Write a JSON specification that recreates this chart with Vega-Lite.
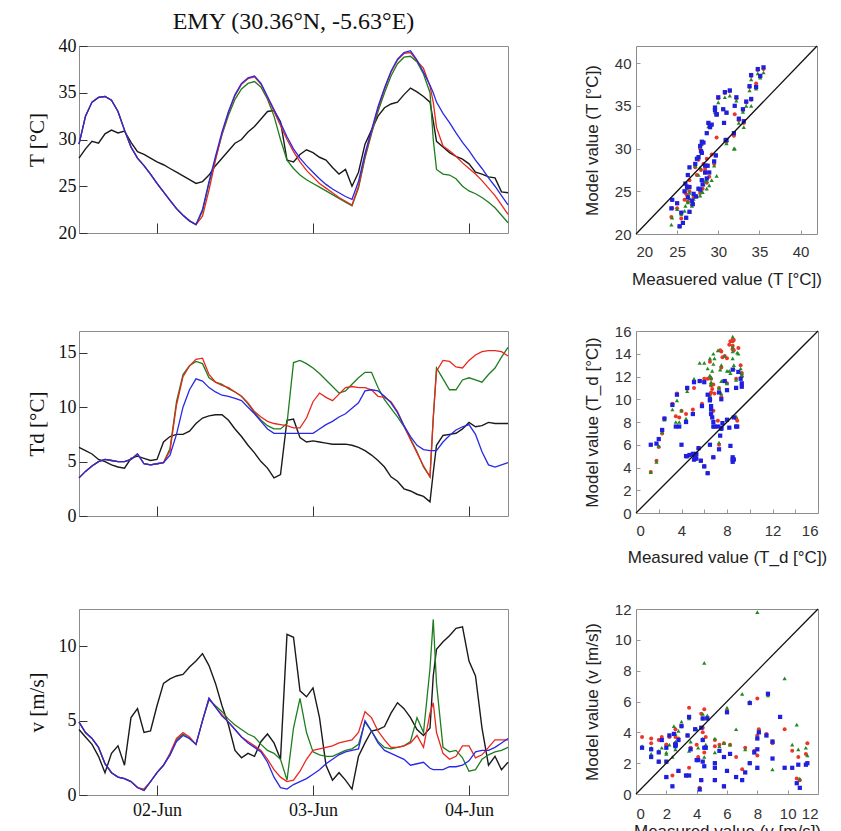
{
"$schema":"https://vega.github.io/schema/vega-lite/v6.json",
"padding":{"left":25,"top":9,"right":5,"bottom":5},
"background":"white",
"config":{"view":{"stroke":"#8c8c8c","strokeWidth":1},
 "axis":{"domain":false,"grid":false,"tickColor":"#333","tickWidth":1,"labelColor":"#111","titleColor":"#111","titleFontWeight":"normal","labelFont":"Liberation Serif","titleFont":"Liberation Serif","labelFontSize":18,"titleFontSize":21}},
"datasets":{"ts":[
{"t":"2012-06-01T12:00","T0":28.0,"T1":29.5,"T2":29.5,"T3":29.5,"D0":6.3,"D1":3.5,"D2":3.5,"D3":3.5,"V0":4.4,"V1":4.9,"V2":4.9,"V3":4.9},
{"t":"2012-06-01T13:00","T0":29.0,"T1":32.5,"T2":32.5,"T3":32.5,"D0":6.0,"D1":4.1,"D2":4.1,"D3":4.1,"V0":3.9,"V1":4.2,"V2":4.2,"V3":4.2},
{"t":"2012-06-01T14:00","T0":29.8,"T1":34.0,"T2":34.0,"T3":34.0,"D0":5.7,"D1":4.6,"D2":4.6,"D3":4.6,"V0":3.4,"V1":3.8,"V2":3.8,"V3":3.8},
{"t":"2012-06-01T15:00","T0":29.6,"T1":34.5,"T2":34.5,"T3":34.5,"D0":5.2,"D1":5.0,"D2":5.0,"D3":5.0,"V0":2.6,"V1":3.2,"V2":3.2,"V3":3.2},
{"t":"2012-06-01T16:00","T0":30.6,"T1":34.6,"T2":34.6,"T3":34.6,"D0":5.0,"D1":5.2,"D2":5.2,"D3":5.2,"V0":1.5,"V1":2.1,"V2":2.1,"V3":2.1},
{"t":"2012-06-01T17:00","T0":31.0,"T1":34.2,"T2":34.2,"T3":34.2,"D0":4.7,"D1":5.1,"D2":5.1,"D3":5.1,"V0":2.8,"V1":1.5,"V2":1.5,"V3":1.5},
{"t":"2012-06-01T18:00","T0":30.7,"T1":33.0,"T2":33.0,"T3":33.0,"D0":4.5,"D1":5.0,"D2":5.0,"D3":5.0,"V0":3.3,"V1":1.2,"V2":1.2,"V3":1.2},
{"t":"2012-06-01T19:00","T0":30.9,"T1":31.0,"T2":31.0,"T3":31.0,"D0":4.4,"D1":5.0,"D2":5.0,"D3":5.0,"V0":2.0,"V1":1.1,"V2":1.1,"V3":1.1},
{"t":"2012-06-01T20:00","T0":29.7,"T1":29.2,"T2":29.2,"T3":29.2,"D0":5.3,"D1":5.2,"D2":5.2,"D3":5.2,"V0":5.2,"V1":0.9,"V2":0.9,"V3":0.9},
{"t":"2012-06-01T21:00","T0":28.7,"T1":28.0,"T2":28.0,"T3":28.0,"D0":5.5,"D1":5.7,"D2":5.7,"D3":5.7,"V0":5.8,"V1":0.5,"V2":0.5,"V3":0.5},
{"t":"2012-06-01T22:00","T0":28.4,"T1":27.2,"T2":27.2,"T3":27.2,"D0":5.3,"D1":4.8,"D2":4.8,"D3":4.8,"V0":4.2,"V1":0.4,"V2":0.3,"V3":0.3},
{"t":"2012-06-01T23:00","T0":28.0,"T1":26.3,"T2":26.3,"T3":26.3,"D0":5.1,"D1":4.7,"D2":4.7,"D3":4.7,"V0":4.3,"V1":0.9,"V2":0.9,"V3":0.9},
{"t":"2012-06-02T00:00","T0":27.6,"T1":25.3,"T2":25.3,"T3":25.3,"D0":5.2,"D1":4.8,"D2":4.8,"D3":4.8,"V0":6.0,"V1":1.5,"V2":1.5,"V3":1.5},
{"t":"2012-06-02T01:00","T0":27.3,"T1":24.4,"T2":24.4,"T3":24.4,"D0":6.8,"D1":4.9,"D2":4.9,"D3":4.9,"V0":7.5,"V1":2.0,"V2":2.0,"V3":2.0},
{"t":"2012-06-02T02:00","T0":26.9,"T1":23.5,"T2":23.5,"T3":23.5,"D0":7.3,"D1":6.0,"D2":6.2,"D3":5.6,"V0":7.8,"V1":2.8,"V2":2.7,"V3":2.7},
{"t":"2012-06-02T03:00","T0":26.5,"T1":22.6,"T2":22.6,"T3":22.6,"D0":7.5,"D1":10.2,"D2":10.5,"D3":7.5,"V0":8.0,"V1":3.8,"V2":3.7,"V3":3.6},
{"t":"2012-06-02T04:00","T0":26.1,"T1":21.9,"T2":21.9,"T3":21.9,"D0":7.5,"D1":12.8,"D2":13.0,"D3":10.0,"V0":8.1,"V1":4.2,"V2":4.1,"V3":4.0},
{"t":"2012-06-02T05:00","T0":25.7,"T1":21.3,"T2":21.3,"T3":21.3,"D0":7.8,"D1":13.8,"D2":13.8,"D3":11.6,"V0":8.6,"V1":3.9,"V2":3.8,"V3":3.8},
{"t":"2012-06-02T06:00","T0":25.3,"T1":20.9,"T2":20.9,"T3":20.9,"D0":8.5,"D1":14.4,"D2":14.2,"D3":12.6,"V0":9.0,"V1":3.4,"V2":3.4,"V3":3.4},
{"t":"2012-06-02T07:00","T0":25.5,"T1":21.8,"T2":22.3,"T3":22.5,"D0":9.0,"D1":14.5,"D2":14.0,"D3":12.4,"V0":9.5,"V1":5.0,"V2":5.0,"V3":5.0},
{"t":"2012-06-02T08:00","T0":26.2,"T1":24.6,"T2":25.3,"T3":25.5,"D0":9.2,"D1":13.0,"D2":12.7,"D3":11.8,"V0":8.7,"V1":6.5,"V2":6.4,"V3":6.5},
{"t":"2012-06-02T09:00","T0":27.2,"T1":27.8,"T2":28.0,"T3":28.2,"D0":9.3,"D1":12.3,"D2":12.3,"D3":11.4,"V0":7.5,"V1":5.9,"V2":6.0,"V3":5.9},
{"t":"2012-06-02T10:00","T0":28.0,"T1":30.6,"T2":30.5,"T3":30.8,"D0":9.3,"D1":12.0,"D2":12.1,"D3":11.1,"V0":6.0,"V1":5.4,"V2":5.6,"V3":5.3},
{"t":"2012-06-02T11:00","T0":28.8,"T1":32.9,"T2":32.6,"T3":33.0,"D0":8.8,"D1":11.8,"D2":11.7,"D3":11.0,"V0":4.7,"V1":4.9,"V2":5.1,"V3":4.9},
{"t":"2012-06-02T12:00","T0":29.6,"T1":34.7,"T2":34.3,"T3":34.8,"D0":8.0,"D1":11.4,"D2":11.4,"D3":10.8,"V0":3.0,"V1":4.4,"V2":4.7,"V3":4.4},
{"t":"2012-06-02T13:00","T0":30.0,"T1":35.9,"T2":35.4,"T3":36.0,"D0":7.3,"D1":11.0,"D2":11.0,"D3":10.6,"V0":2.5,"V1":3.9,"V2":4.4,"V3":3.9},
{"t":"2012-06-02T14:00","T0":30.8,"T1":36.5,"T2":36.0,"T3":36.6,"D0":6.5,"D1":10.4,"D2":10.3,"D3":10.0,"V0":2.8,"V1":3.6,"V2":4.1,"V3":3.5},
{"t":"2012-06-02T15:00","T0":31.4,"T1":36.7,"T2":36.2,"T3":36.8,"D0":5.8,"D1":9.6,"D2":9.5,"D3":9.4,"V0":2.6,"V1":3.3,"V2":3.9,"V3":3.2},
{"t":"2012-06-02T16:00","T0":32.2,"T1":35.9,"T2":35.6,"T3":36.0,"D0":5.0,"D1":9.1,"D2":8.8,"D3":8.7,"V0":3.6,"V1":3.0,"V2":3.4,"V3":2.9},
{"t":"2012-06-02T17:00","T0":33.0,"T1":34.5,"T2":34.3,"T3":34.6,"D0":4.4,"D1":8.7,"D2":8.3,"D3":8.0,"V0":4.1,"V1":2.4,"V2":3.0,"V3":2.2},
{"t":"2012-06-02T18:00","T0":33.1,"T1":33.0,"T2":32.5,"T3":33.2,"D0":3.5,"D1":8.5,"D2":8.0,"D3":7.6,"V0":3.5,"V1":1.7,"V2":2.8,"V3":1.2},
{"t":"2012-06-02T19:00","T0":31.9,"T1":31.5,"T2":30.0,"T3":31.8,"D0":3.8,"D1":8.4,"D2":8.0,"D3":7.6,"V0":2.4,"V1":1.2,"V2":2.4,"V3":0.5},
{"t":"2012-06-02T20:00","T0":27.8,"T1":30.0,"T2":27.8,"T3":30.3,"D0":8.8,"D1":8.3,"D2":8.5,"D3":7.6,"V0":10.8,"V1":0.9,"V2":1.0,"V3":0.4},
{"t":"2012-06-02T21:00","T0":27.6,"T1":28.7,"T2":26.9,"T3":29.0,"D0":8.9,"D1":8.1,"D2":14.1,"D3":7.6,"V0":10.6,"V1":1.0,"V2":4.5,"V3":0.7},
{"t":"2012-06-02T22:00","T0":28.4,"T1":27.6,"T2":26.2,"T3":28.0,"D0":7.2,"D1":8.1,"D2":14.3,"D3":7.6,"V0":7.0,"V1":1.6,"V2":6.5,"V3":0.9},
{"t":"2012-06-02T23:00","T0":28.9,"T1":26.7,"T2":25.7,"T3":27.2,"D0":6.8,"D1":9.0,"D2":14.0,"D3":7.6,"V0":6.6,"V1":2.4,"V2":4.2,"V3":1.1},
{"t":"2012-06-03T00:00","T0":28.6,"T1":26.0,"T2":25.3,"T3":26.5,"D0":6.9,"D1":10.5,"D2":13.6,"D3":7.6,"V0":7.2,"V1":3.0,"V2":2.9,"V3":1.4},
{"t":"2012-06-03T01:00","T0":28.1,"T1":25.3,"T2":24.9,"T3":25.8,"D0":6.8,"D1":11.3,"D2":13.1,"D3":8.0,"V0":5.2,"V1":3.1,"V2":2.7,"V3":1.7},
{"t":"2012-06-03T02:00","T0":27.8,"T1":24.8,"T2":24.5,"T3":25.2,"D0":6.7,"D1":10.9,"D2":12.5,"D3":8.4,"V0":2.0,"V1":3.2,"V2":2.6,"V3":2.1},
{"t":"2012-06-03T03:00","T0":27.0,"T1":24.3,"T2":24.1,"T3":24.7,"D0":6.6,"D1":10.6,"D2":11.9,"D3":8.7,"V0":1.0,"V1":3.3,"V2":2.6,"V3":2.4},
{"t":"2012-06-03T04:00","T0":26.3,"T1":23.8,"T2":23.7,"T3":24.3,"D0":6.6,"D1":11.2,"D2":11.3,"D3":9.1,"V0":1.5,"V1":3.5,"V2":2.8,"V3":2.7},
{"t":"2012-06-03T05:00","T0":26.8,"T1":23.4,"T2":23.3,"T3":23.9,"D0":6.6,"D1":11.8,"D2":11.5,"D3":9.4,"V0":1.0,"V1":3.6,"V2":3.0,"V3":2.9},
{"t":"2012-06-03T06:00","T0":25.0,"T1":23.0,"T2":22.9,"T3":23.6,"D0":6.5,"D1":11.9,"D2":12.1,"D3":9.9,"V0":0.4,"V1":3.7,"V2":3.1,"V3":3.0},
{"t":"2012-06-03T07:00","T0":26.5,"T1":25.0,"T2":24.8,"T3":25.5,"D0":6.3,"D1":11.8,"D2":12.7,"D3":10.4,"V0":2.6,"V1":4.2,"V2":3.4,"V3":3.1},
{"t":"2012-06-03T08:00","T0":29.5,"T1":28.2,"T2":28.0,"T3":28.5,"D0":6.0,"D1":11.8,"D2":13.2,"D3":11.5,"V0":3.5,"V1":5.6,"V2":4.9,"V3":5.0},
{"t":"2012-06-03T09:00","T0":31.0,"T1":30.8,"T2":30.6,"T3":31.0,"D0":5.6,"D1":11.6,"D2":13.2,"D3":11.6,"V0":4.3,"V1":5.2,"V2":4.3,"V3":4.3},
{"t":"2012-06-03T10:00","T0":32.5,"T1":33.3,"T2":33.0,"T3":33.5,"D0":5.1,"D1":11.0,"D2":11.8,"D3":11.5,"V0":4.4,"V1":4.3,"V2":3.6,"V3":3.5},
{"t":"2012-06-03T11:00","T0":33.4,"T1":35.4,"T2":35.0,"T3":35.5,"D0":4.5,"D1":10.9,"D2":10.7,"D3":11.0,"V0":4.6,"V1":3.7,"V2":3.2,"V3":3.0},
{"t":"2012-06-03T12:00","T0":33.8,"T1":37.2,"T2":36.8,"T3":37.3,"D0":3.6,"D1":10.5,"D2":9.9,"D3":10.4,"V0":5.5,"V1":3.2,"V2":3.1,"V3":2.8},
{"t":"2012-06-03T13:00","T0":34.0,"T1":38.5,"T2":38.1,"T3":38.6,"D0":3.2,"D1":9.6,"D2":9.1,"D3":9.5,"V0":6.2,"V1":3.2,"V2":3.2,"V3":2.6},
{"t":"2012-06-03T14:00","T0":34.8,"T1":39.2,"T2":38.8,"T3":39.3,"D0":2.5,"D1":8.3,"D2":8.2,"D3":8.3,"V0":5.8,"V1":3.3,"V2":3.3,"V3":2.4},
{"t":"2012-06-03T15:00","T0":35.5,"T1":39.3,"T2":38.9,"T3":39.5,"D0":2.3,"D1":7.0,"D2":7.1,"D3":7.3,"V0":5.2,"V1":3.5,"V2":3.6,"V3":2.0},
{"t":"2012-06-03T16:00","T0":35.1,"T1":38.4,"T2":38.3,"T3":38.5,"D0":2.0,"D1":5.8,"D2":5.9,"D3":6.5,"V0":4.4,"V1":4.0,"V2":5.2,"V3":2.1},
{"t":"2012-06-03T17:00","T0":34.6,"T1":37.6,"T2":37.0,"T3":37.2,"D0":1.8,"D1":4.6,"D2":4.5,"D3":6.1,"V0":4.0,"V1":3.2,"V2":4.2,"V3":2.2},
{"t":"2012-06-03T18:00","T0":34.0,"T1":35.7,"T2":35.0,"T3":35.8,"D0":1.3,"D1":3.6,"D2":3.6,"D3":6.0,"V0":4.5,"V1":5.5,"V2":8.5,"V3":1.8},
{"t":"2012-06-03T18:30","T0":32.0,"T1":34.0,"T2":30.0,"T3":35.0,"D0":4.0,"D1":9.0,"D2":9.0,"D3":6.0,"V0":8.0,"V1":6.2,"V2":11.8,"V3":1.7},
{"t":"2012-06-03T19:00","T0":29.8,"T1":31.3,"T2":26.8,"T3":34.0,"D0":6.5,"D1":13.3,"D2":13.6,"D3":6.0,"V0":9.8,"V1":4.2,"V2":7.5,"V3":1.7},
{"t":"2012-06-03T20:00","T0":29.2,"T1":29.3,"T2":26.3,"T3":32.8,"D0":7.4,"D1":14.3,"D2":12.6,"D3":6.8,"V0":10.3,"V1":2.8,"V2":3.2,"V3":1.7},
{"t":"2012-06-03T21:00","T0":28.6,"T1":28.8,"T2":26.2,"T3":31.8,"D0":7.5,"D1":14.2,"D2":11.6,"D3":7.4,"V0":10.7,"V1":2.4,"V2":2.9,"V3":1.9},
{"t":"2012-06-03T22:00","T0":28.2,"T1":28.2,"T2":25.8,"T3":30.7,"D0":7.6,"D1":13.7,"D2":11.6,"D3":7.9,"V0":11.2,"V1":2.6,"V2":3.0,"V3":1.9},
{"t":"2012-06-03T23:00","T0":27.9,"T1":27.5,"T2":25.0,"T3":29.7,"D0":8.0,"D1":13.6,"D2":12.5,"D3":8.2,"V0":11.3,"V1":3.3,"V2":2.5,"V3":2.0},
{"t":"2012-06-04T00:00","T0":27.4,"T1":26.9,"T2":24.5,"T3":28.8,"D0":8.6,"D1":14.3,"D2":12.7,"D3":8.4,"V0":9.0,"V1":3.3,"V2":1.6,"V3":2.3},
{"t":"2012-06-04T01:00","T0":26.5,"T1":26.3,"T2":24.2,"T3":27.8,"D0":8.2,"D1":14.8,"D2":12.5,"D3":7.5,"V0":8.0,"V1":2.5,"V2":1.7,"V3":2.9},
{"t":"2012-06-04T02:00","T0":26.3,"T1":25.6,"T2":23.8,"T3":26.9,"D0":8.3,"D1":15.1,"D2":12.3,"D3":5.9,"V0":4.5,"V1":2.7,"V2":2.4,"V3":3.0},
{"t":"2012-06-04T03:00","T0":26.0,"T1":24.8,"T2":23.3,"T3":25.9,"D0":8.6,"D1":15.2,"D2":13.0,"D3":4.7,"V0":2.0,"V1":3.2,"V2":2.7,"V3":3.0},
{"t":"2012-06-04T04:00","T0":25.9,"T1":24.0,"T2":22.7,"T3":25.0,"D0":8.5,"D1":15.2,"D2":13.6,"D3":4.5,"V0":2.6,"V1":3.7,"V2":2.9,"V3":3.2},
{"t":"2012-06-04T05:00","T0":24.4,"T1":23.0,"T2":21.9,"T3":24.0,"D0":8.5,"D1":15.1,"D2":14.6,"D3":4.7,"V0":1.7,"V1":3.7,"V2":3.0,"V3":3.5},
{"t":"2012-06-04T06:00","T0":24.3,"T1":22.0,"T2":21.1,"T3":23.0,"D0":8.5,"D1":14.7,"D2":15.5,"D3":4.9,"V0":2.2,"V1":3.7,"V2":3.2,"V3":3.8}
]},
"spacing":35,
"vconcat":[
 {"bounds":"flush","spacing":128,"hconcat":[
  {"width":429,"height":187,"data":{"name":"ts"},
   "title":{"text":"EMY (30.36°N, -5.63°E)","font":"Liberation Serif","fontSize":24,"fontWeight":"normal","color":"#111","offset":3,"anchor":"middle"},
   "encoding":{"x":{"field":"t","type":"temporal","scale":{"domain":[{"year":2012,"month":6,"date":1,"hours":12},{"year":2012,"month":6,"date":4,"hours":6}],"nice":false},"axis":{"tickCount":{"interval":"day","step":1},"tickSize":-10,"labels":false,"title":null}}},
   "layer":[
    {"mark":{"type":"line","color":"#1a1a1a","strokeWidth":1.4},"encoding":{"y":{"field":"T0","type":"quantitative","scale":{"domain":[20,40],"nice":false,"zero":false},"axis":{"tickCount":4,"tickSize":-8,"labelPadding":11,"title":"T [°C]","titlePadding":11}}}},
    {"mark":{"type":"line","color":"#1e7d1e","strokeWidth":1.3},"encoding":{"y":{"field":"T2","type":"quantitative","scale":{"domain":[20,40],"nice":false,"zero":false},"axis":{"tickCount":4,"tickSize":-8,"labelPadding":11,"title":"T [°C]","titlePadding":11}}}},
    {"mark":{"type":"line","color":"#e8281e","strokeWidth":1.3},"encoding":{"y":{"field":"T1","type":"quantitative","scale":{"domain":[20,40],"nice":false,"zero":false},"axis":{"tickCount":4,"tickSize":-8,"labelPadding":11,"title":"T [°C]","titlePadding":11}}}},
    {"mark":{"type":"line","color":"#2828e6","strokeWidth":1.3},"encoding":{"y":{"field":"T3","type":"quantitative","scale":{"domain":[20,40],"nice":false,"zero":false},"axis":{"tickCount":4,"tickSize":-8,"labelPadding":11,"title":"T [°C]","titlePadding":11}}}}
   ]},
  {"width":181,"height":188,"data":{"name":"ts"},
   "encoding":{"x":{"field":"T0","type":"quantitative","scale":{"domain":[20,42],"nice":false,"zero":false},"axis":{"tickCount":5,"tickSize":-4,"tickColor":"#999","labelPadding":14,"labelFont":"Liberation Sans","labelFontSize":15,"labelColor":"#333","title":"Measuered value (T [°C])","titleFont":"Liberation Sans","titleFontSize":17,"titleColor":"#222","titlePadding":12}}},
   "layer":[
    {"mark":{"type":"point","shape":"circle","filled":true,"size":16,"color":"#ee3528","opacity":1},
     "encoding":{"y":{"field":"T1","type":"quantitative","scale":{"domain":[20,42],"nice":false,"zero":false},"axis":{"tickCount":5,"tickSize":-4,"tickColor":"#999","labelPadding":9,"labelFont":"Liberation Sans","labelFontSize":15,"labelColor":"#333","title":"Model value (T [°C])","titleFont":"Liberation Sans","titleFontSize":17,"titleColor":"#222","titlePadding":13}}}},
    {"mark":{"type":"point","shape":"triangle-up","filled":true,"size":18,"color":"#238a23","opacity":1},
     "encoding":{"y":{"field":"T2","type":"quantitative","scale":{"domain":[20,42],"nice":false,"zero":false},"axis":{"tickCount":5,"tickSize":-4,"tickColor":"#999","labelPadding":9,"labelFont":"Liberation Sans","labelFontSize":15,"labelColor":"#333","title":"Model value (T [°C])","titleFont":"Liberation Sans","titleFontSize":17,"titleColor":"#222","titlePadding":13}}}},
    {"mark":{"type":"point","shape":"square","filled":true,"size":18,"color":"#1f1fe0","opacity":1},
     "encoding":{"y":{"field":"T3","type":"quantitative","scale":{"domain":[20,42],"nice":false,"zero":false},"axis":{"tickCount":5,"tickSize":-4,"tickColor":"#999","labelPadding":9,"labelFont":"Liberation Sans","labelFontSize":15,"labelColor":"#333","title":"Model value (T [°C])","titleFont":"Liberation Sans","titleFontSize":17,"titleColor":"#222","titlePadding":13}}}},
    {"data":{"values":[{"T0":20,"T1":20},{"T0":42,"T1":42}]},"mark":{"type":"line","color":"#111","strokeWidth":1.3},
     "encoding":{"y":{"field":"T1","type":"quantitative","scale":{"domain":[20,42],"nice":false,"zero":false},"axis":{"tickCount":5,"tickSize":-4,"tickColor":"#999","labelPadding":9,"labelFont":"Liberation Sans","labelFontSize":15,"labelColor":"#333","title":"Model value (T [°C])","titleFont":"Liberation Sans","titleFontSize":17,"titleColor":"#222","titlePadding":13}}}}
   ]}
 ]},
 {"bounds":"flush","spacing":128,"hconcat":[
  {"width":429,"height":185,"data":{"name":"ts"},
   "encoding":{"x":{"field":"t","type":"temporal","scale":{"domain":[{"year":2012,"month":6,"date":1,"hours":12},{"year":2012,"month":6,"date":4,"hours":6}],"nice":false},"axis":{"tickCount":{"interval":"day","step":1},"tickSize":-10,"labels":false,"title":null}}},
   "layer":[
    {"mark":{"type":"line","color":"#1a1a1a","strokeWidth":1.4},"encoding":{"y":{"field":"D0","type":"quantitative","scale":{"domain":[0,17],"nice":false,"zero":false},"axis":{"tickCount":4,"tickSize":-8,"labelPadding":11,"title":"Td [°C]","titlePadding":11}}}},
    {"mark":{"type":"line","color":"#1e7d1e","strokeWidth":1.3},"encoding":{"y":{"field":"D2","type":"quantitative","scale":{"domain":[0,17],"nice":false,"zero":false},"axis":{"tickCount":4,"tickSize":-8,"labelPadding":11,"title":"Td [°C]","titlePadding":11}}}},
    {"mark":{"type":"line","color":"#e8281e","strokeWidth":1.3},"encoding":{"y":{"field":"D1","type":"quantitative","scale":{"domain":[0,17],"nice":false,"zero":false},"axis":{"tickCount":4,"tickSize":-8,"labelPadding":11,"title":"Td [°C]","titlePadding":11}}}},
    {"mark":{"type":"line","color":"#2828e6","strokeWidth":1.3},"encoding":{"y":{"field":"D3","type":"quantitative","scale":{"domain":[0,17],"nice":false,"zero":false},"axis":{"tickCount":4,"tickSize":-8,"labelPadding":11,"title":"Td [°C]","titlePadding":11}}}}
   ]},
  {"width":182,"height":182,"data":{"name":"ts"},
   "encoding":{"x":{"field":"D0","type":"quantitative","scale":{"domain":[0,16],"nice":false,"zero":false},"axis":{"tickCount":8,"tickSize":-4,"tickColor":"#999","labelPadding":14,"labelFont":"Liberation Sans","labelFontSize":15,"labelColor":"#333","title":"Measured value (T_d [°C])","titleFont":"Liberation Sans","titleFontSize":17,"titleColor":"#222","titlePadding":11}}},
   "layer":[
    {"mark":{"type":"point","shape":"circle","filled":true,"size":16,"color":"#ee3528","opacity":1},
     "encoding":{"y":{"field":"D1","type":"quantitative","scale":{"domain":[0,16],"nice":false,"zero":false},"axis":{"tickCount":8,"tickSize":-4,"tickColor":"#999","labelPadding":9,"labelFont":"Liberation Sans","labelFontSize":15,"labelColor":"#333","title":"Model value (T_d [°C])","titleFont":"Liberation Sans","titleFontSize":17,"titleColor":"#222","titlePadding":13}}}},
    {"mark":{"type":"point","shape":"triangle-up","filled":true,"size":18,"color":"#238a23","opacity":1},
     "encoding":{"y":{"field":"D2","type":"quantitative","scale":{"domain":[0,16],"nice":false,"zero":false},"axis":{"tickCount":8,"tickSize":-4,"tickColor":"#999","labelPadding":9,"labelFont":"Liberation Sans","labelFontSize":15,"labelColor":"#333","title":"Model value (T_d [°C])","titleFont":"Liberation Sans","titleFontSize":17,"titleColor":"#222","titlePadding":13}}}},
    {"mark":{"type":"point","shape":"square","filled":true,"size":18,"color":"#1f1fe0","opacity":1},
     "encoding":{"y":{"field":"D3","type":"quantitative","scale":{"domain":[0,16],"nice":false,"zero":false},"axis":{"tickCount":8,"tickSize":-4,"tickColor":"#999","labelPadding":9,"labelFont":"Liberation Sans","labelFontSize":15,"labelColor":"#333","title":"Model value (T_d [°C])","titleFont":"Liberation Sans","titleFontSize":17,"titleColor":"#222","titlePadding":13}}}},
    {"data":{"values":[{"D0":0,"D1":0},{"D0":16,"D1":16}]},"mark":{"type":"line","color":"#111","strokeWidth":1.3},
     "encoding":{"y":{"field":"D1","type":"quantitative","scale":{"domain":[0,16],"nice":false,"zero":false},"axis":{"tickCount":8,"tickSize":-4,"tickColor":"#999","labelPadding":9,"labelFont":"Liberation Sans","labelFontSize":15,"labelColor":"#333","title":"Model value (T_d [°C])","titleFont":"Liberation Sans","titleFontSize":17,"titleColor":"#222","titlePadding":13}}}}
   ]}
 ]},
 {"bounds":"flush","spacing":128,"hconcat":[
  {"width":429,"height":186,"data":{"name":"ts"},
   "encoding":{"x":{"field":"t","type":"temporal","scale":{"domain":[{"year":2012,"month":6,"date":1,"hours":12},{"year":2012,"month":6,"date":4,"hours":6}],"nice":false},"axis":{"tickCount":{"interval":"day","step":1},"tickSize":-10,"format":"%d-%b","labelPadding":16,"title":null}}},
   "layer":[
    {"mark":{"type":"line","color":"#1a1a1a","strokeWidth":1.4},"encoding":{"y":{"field":"V0","type":"quantitative","scale":{"domain":[0,12.5],"nice":false,"zero":false},"axis":{"tickCount":3,"tickSize":-8,"labelPadding":11,"title":"v [m/s]","titlePadding":11}}}},
    {"mark":{"type":"line","color":"#1e7d1e","strokeWidth":1.3},"encoding":{"y":{"field":"V2","type":"quantitative","scale":{"domain":[0,12.5],"nice":false,"zero":false},"axis":{"tickCount":3,"tickSize":-8,"labelPadding":11,"title":"v [m/s]","titlePadding":11}}}},
    {"mark":{"type":"line","color":"#e8281e","strokeWidth":1.3},"encoding":{"y":{"field":"V1","type":"quantitative","scale":{"domain":[0,12.5],"nice":false,"zero":false},"axis":{"tickCount":3,"tickSize":-8,"labelPadding":11,"title":"v [m/s]","titlePadding":11}}}},
    {"mark":{"type":"line","color":"#2828e6","strokeWidth":1.3},"encoding":{"y":{"field":"V3","type":"quantitative","scale":{"domain":[0,12.5],"nice":false,"zero":false},"axis":{"tickCount":3,"tickSize":-8,"labelPadding":11,"title":"v [m/s]","titlePadding":11}}}}
   ]},
  {"width":182,"height":185,"data":{"name":"ts"},
   "encoding":{"x":{"field":"V0","type":"quantitative","scale":{"domain":[0,12],"nice":false,"zero":false},"axis":{"tickCount":6,"tickSize":-4,"tickColor":"#999","labelPadding":16,"labelFont":"Liberation Sans","labelFontSize":15,"labelColor":"#333","title":"Measured value (v [m/s])","titleFont":"Liberation Sans","titleFontSize":17,"titleColor":"#222","titlePadding":2}}},
   "layer":[
    {"mark":{"type":"point","shape":"circle","filled":true,"size":16,"color":"#ee3528","opacity":1},
     "encoding":{"y":{"field":"V1","type":"quantitative","scale":{"domain":[0,12],"nice":false,"zero":false},"axis":{"tickCount":6,"tickSize":-4,"tickColor":"#999","labelPadding":9,"labelFont":"Liberation Sans","labelFontSize":15,"labelColor":"#333","title":"Model value (v [m/s])","titleFont":"Liberation Sans","titleFontSize":17,"titleColor":"#222","titlePadding":13}}}},
    {"mark":{"type":"point","shape":"triangle-up","filled":true,"size":18,"color":"#238a23","opacity":1},
     "encoding":{"y":{"field":"V2","type":"quantitative","scale":{"domain":[0,12],"nice":false,"zero":false},"axis":{"tickCount":6,"tickSize":-4,"tickColor":"#999","labelPadding":9,"labelFont":"Liberation Sans","labelFontSize":15,"labelColor":"#333","title":"Model value (v [m/s])","titleFont":"Liberation Sans","titleFontSize":17,"titleColor":"#222","titlePadding":13}}}},
    {"mark":{"type":"point","shape":"square","filled":true,"size":18,"color":"#1f1fe0","opacity":1},
     "encoding":{"y":{"field":"V3","type":"quantitative","scale":{"domain":[0,12],"nice":false,"zero":false},"axis":{"tickCount":6,"tickSize":-4,"tickColor":"#999","labelPadding":9,"labelFont":"Liberation Sans","labelFontSize":15,"labelColor":"#333","title":"Model value (v [m/s])","titleFont":"Liberation Sans","titleFontSize":17,"titleColor":"#222","titlePadding":13}}}},
    {"data":{"values":[{"V0":0,"V1":0},{"V0":12,"V1":12}]},"mark":{"type":"line","color":"#111","strokeWidth":1.3},
     "encoding":{"y":{"field":"V1","type":"quantitative","scale":{"domain":[0,12],"nice":false,"zero":false},"axis":{"tickCount":6,"tickSize":-4,"tickColor":"#999","labelPadding":9,"labelFont":"Liberation Sans","labelFontSize":15,"labelColor":"#333","title":"Model value (v [m/s])","titleFont":"Liberation Sans","titleFontSize":17,"titleColor":"#222","titlePadding":13}}}}
   ]}
 ]}
]
}
